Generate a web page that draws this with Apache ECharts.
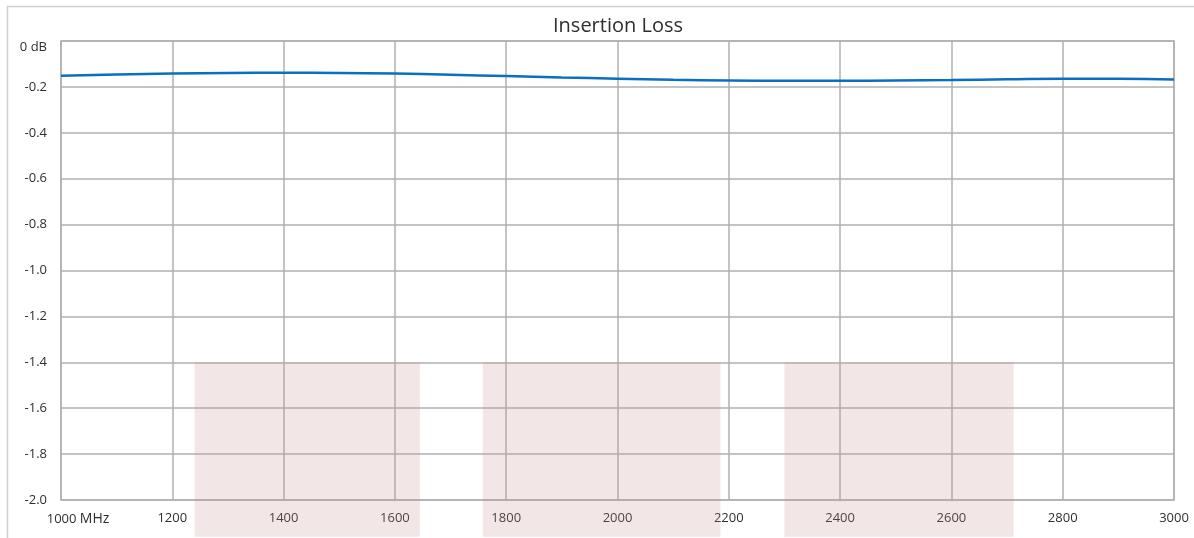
<!DOCTYPE html>
<html>
<head>
<meta charset="utf-8">
<script src="https://cdn.jsdelivr.net/npm/echarts@6/dist/echarts.min.js"></script>
<style>
html,body{margin:0;padding:0;background:#fff;}
#chart{width:1194px;height:538px;}
</style>
</head>
<body>
<div id="chart"></div>
<script>
// Frequency points (MHz) and insertion loss (dB)
var freqs = [1000, 1100, 1200, 1300, 1400, 1500, 1600, 1700, 1800, 1900, 2000, 2100, 2200, 2300, 2400, 2500, 2600, 2700, 2800, 2900, 3000];
var lossDb = [-0.151, -0.146, -0.142, -0.139, -0.138, -0.139, -0.142, -0.147, -0.153, -0.159, -0.164, -0.169, -0.172, -0.173, -0.173, -0.172, -0.170, -0.167, -0.165, -0.165, -0.168];
// Shaded pass bands: [startMHz, endMHz, topDb, bottomDb]
var bands = [
  [1240, 1645, -1.4, -2.16],
  [1758, 2185, -1.4, -2.16],
  [2300, 2712, -1.4, -2.16]
];
var xTicks = {min: 1000, max: 3000, step: 200};
var yTicks = {min: -2, max: 0, step: 0.2};

var FONT = 'Open Sans';
var chart = echarts.init(document.getElementById('chart'));
var lineData = freqs.map(function (f, i) { return [f, lossDb[i]]; });

chart.setOption({
  animation: false,
  backgroundColor: '#fff',
  textStyle: {fontFamily: FONT},
  title: {
    text: 'Insertion Loss',
    left: 553,
    top: 16,
    padding: 0,
    textStyle: {fontFamily: FONT, fontSize: 20, fontWeight: 'normal', color: '#2e2e2e'}
  },
  graphic: [{
    type: 'rect',
    left: 5, top: 4,
    shape: {width: 1220, height: 533},
    style: {fill: 'none', stroke: '#cfcfcf', lineWidth: 1.5},
    silent: true,
    z: -10
  }],
  grid: {
    left: 61, right: 20, top: 41, bottom: 38,
    show: true,
    borderColor: '#b0b0b0',
    borderWidth: 1.5
  },
  xAxis: {
    type: 'value',
    min: xTicks.min, max: xTicks.max, interval: xTicks.step,
    axisLine: {show: false},
    axisTick: {show: false},
    splitLine: {show: true, lineStyle: {color: '#b0b0b0', width: 1.5}},
    axisLabel: {
      margin: 12,
      fontSize: 13,
      color: '#2e2e2e',
      fontFamily: FONT,
      formatter: function (v) {
        if (v === xTicks.min) return '{u|' + v + ' }{m|MHz}';
        return String(v);
      },
      rich: {
        u: {fontSize: 13, color: '#2e2e2e', fontFamily: FONT, padding: [0, 0, 0, 34]},
        m: {fontSize: 14, color: '#2e2e2e', fontFamily: FONT}
      }
    }
  },
  yAxis: {
    type: 'value',
    min: yTicks.min, max: yTicks.max, interval: yTicks.step,
    axisLine: {show: false},
    axisTick: {show: false},
    splitLine: {show: true, lineStyle: {color: '#b0b0b0', width: 1.5}},
    axisLabel: {
      margin: 14,
      fontSize: 13,
      color: '#2e2e2e',
      fontFamily: FONT,
      formatter: function (v) {
        if (Math.abs(v) < 1e-9) return '{t|0 dB}';
        return v.toFixed(1);
      },
      rich: {
        t: {fontSize: 13, color: '#2e2e2e', fontFamily: FONT, padding: [12, 0, 0, 0]}
      }
    }
  },
  series: [
    {
      type: 'custom',
      clip: false,
      z: 1,
      silent: true,
      data: bands,
      encode: {x: [0, 1], y: [2, 3]},
      renderItem: function (params, api) {
        var p1 = api.coord([api.value(0), api.value(2)]);
        var p2 = api.coord([api.value(1), api.value(3)]);
        return {
          type: 'rect',
          shape: {x: p1[0], y: p1[1], width: p2[0] - p1[0], height: p2[1] - p1[1]},
          style: {fill: 'rgba(200,140,145,0.22)'}
        };
      }
    },
    {
      type: 'line',
      data: lineData,
      smooth: true,
      showSymbol: false,
      z: 3,
      lineStyle: {color: '#0a6fc2', width: 2.5}
    }
  ]
});
</script>
</body>
</html>
